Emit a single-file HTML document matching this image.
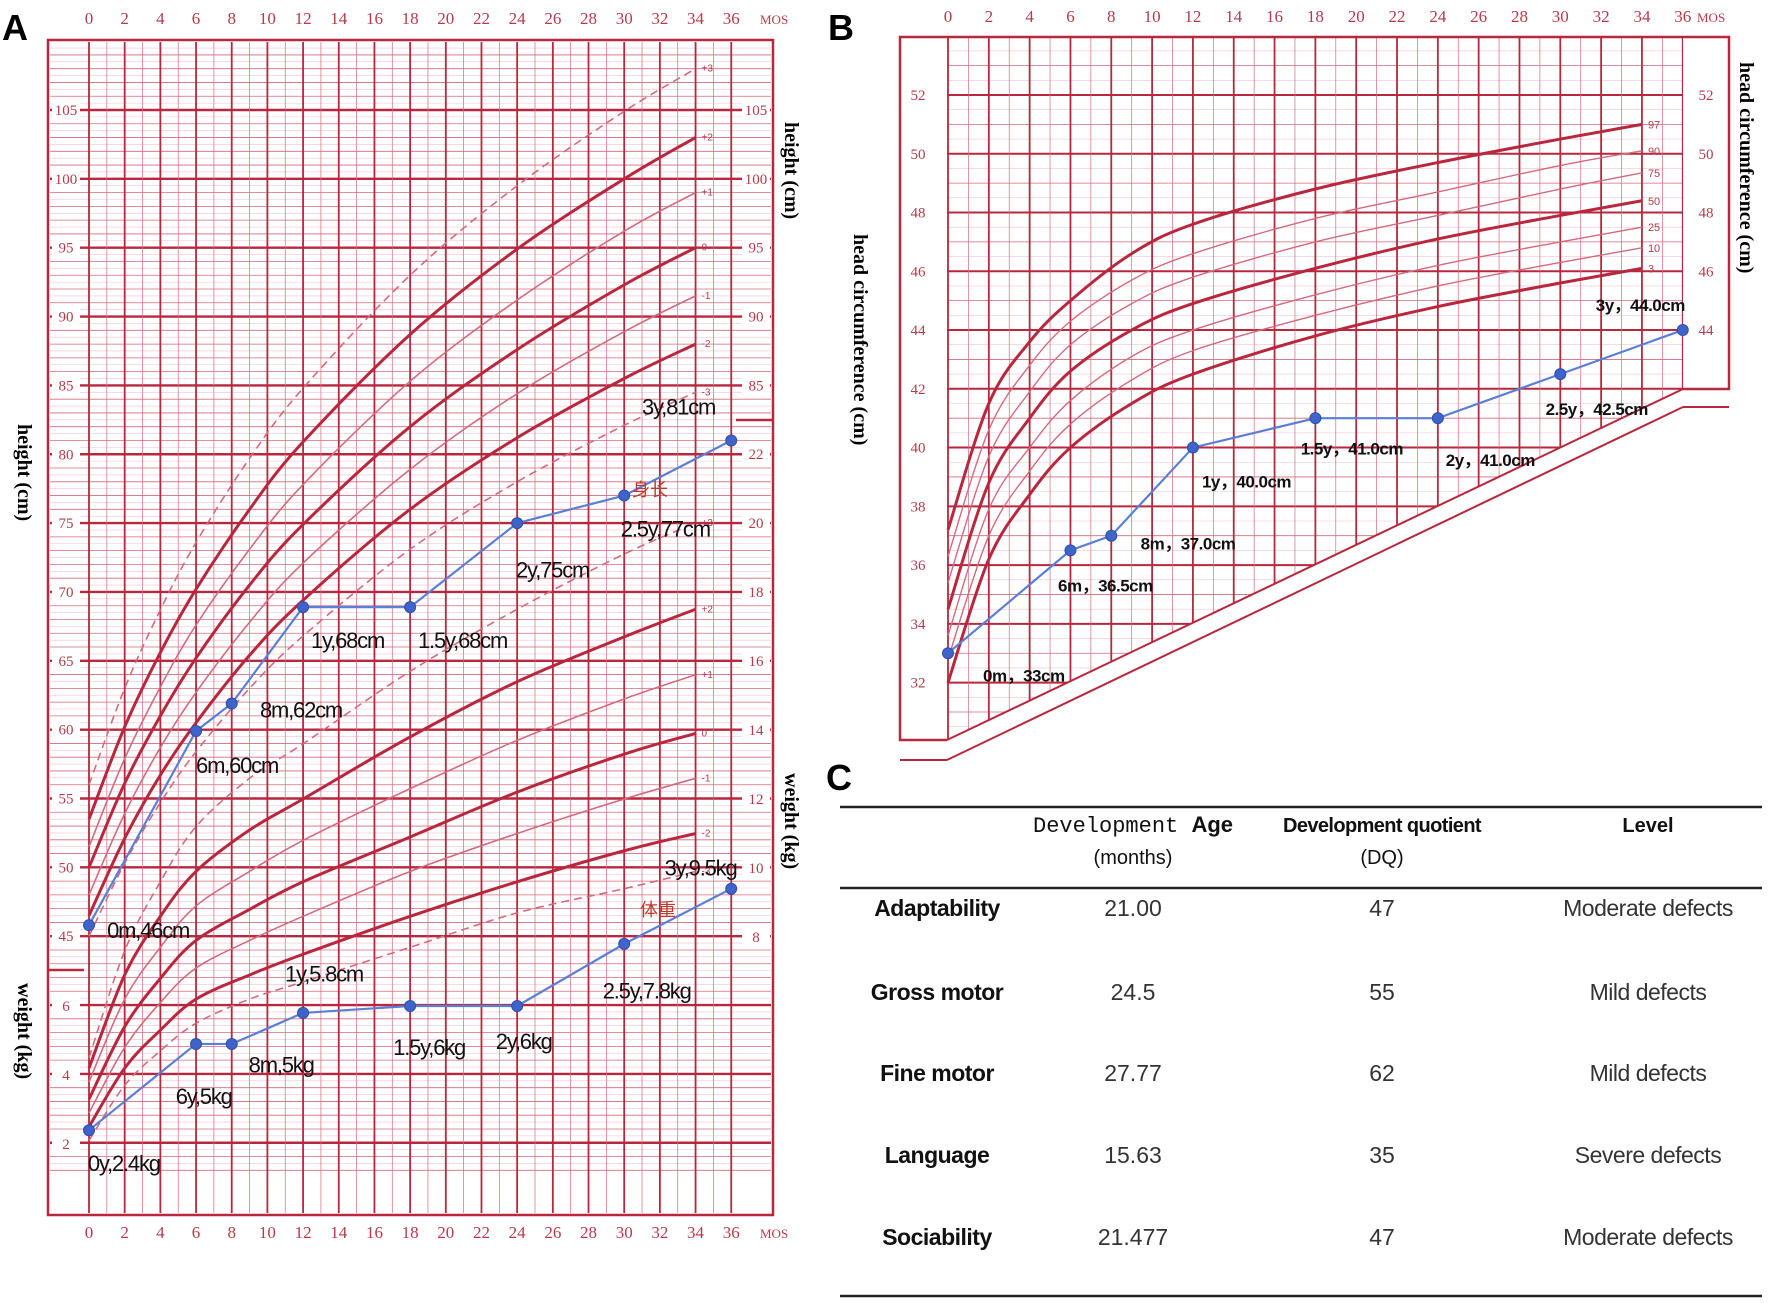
<!DOCTYPE html>
<html><head><meta charset="utf-8">
<style>
html,body{margin:0;padding:0;background:#fff;}
svg{display:block;font-family:"Liberation Sans","Noto Sans CJK SC",sans-serif;}
</style></head>
<body>
<svg id="fig" width="1772" height="1303" viewBox="0 0 1772 1303" xmlns="http://www.w3.org/2000/svg">
<defs>
<clipPath id="clipB"><polygon points="947,37 1683,37 1683,389 947,740"/></clipPath>
</defs>
<g id="gA"></g>
<g id="gB"></g>
<g id="gC"></g>
</svg>
<script>
// ---------- DATA ----------
const refMonths = [0,2,4,6,9,12,18,24,30,34];
const heightSDLabels = ['+3','+2','+1','0','-1','-2','-3'];
const heightP3 = [56,63,68.7,73.6,79.7,84.8,93,99.5,104.9,108];
const heightP2 = [53.5,60.2,65.6,70.2,76,80.9,88.7,94.9,100,103];
const heightP1 = [51.5,57.9,63.1,67.6,73.1,77.8,85.3,91.2,96.2,99];
const height0  = [50,56.1,61,65.2,70.5,74.9,82,87.6,92.3,95];
const heightM1 = [48,53.9,58.7,62.7,67.8,72.1,78.9,84.4,88.9,91.5];
const heightM2 = [46.5,52.1,56.7,60.5,65.4,69.4,76,81.2,85.5,88];
const heightM3 = [45,50.3,54.7,58.4,63,66.8,73.1,78,82.1,84.5];
const weightP3 = [4.5,7.6,9.6,11.2,12.6,13.6,15.7,17.5,19.1,20];
const weightP2 = [4.2,6.9,8.6,9.9,11.1,12.0,13.8,15.4,16.7,17.5];
const weightP1 = [3.8,6.2,7.7,8.9,9.9,10.8,12.3,13.7,14.9,15.6];
const weight0  = [3.3,5.4,6.8,7.9,8.8,9.6,10.9,12.2,13.3,13.9];
const weightM1 = [2.9,4.8,6.1,7.1,7.9,8.6,9.9,11.0,12.0,12.6];
const weightM2 = [2.5,4.2,5.3,6.2,6.9,7.5,8.6,9.6,10.5,11.0];
const weightM3 = [2.1,3.7,4.7,5.5,6.2,6.7,7.7,8.7,9.4,9.9];
const headPctLabels = ['97','90','75','50','25','10','3'];
const head97 = [37.2,41.5,43.6,45.0,46.6,47.6,48.8,49.7,50.5,51.0];
const head90 = [36.3,40.6,42.8,44.3,45.7,46.6,47.8,48.7,49.6,50.1];
const head75 = [35.4,39.7,41.9,43.5,44.9,45.8,47.0,47.9,48.8,49.35];
const head50 = [34.5,38.8,41.0,42.6,44.0,44.9,46.1,47.1,47.9,48.4];
const head25 = [33.6,37.9,40.0,41.6,43.1,44.0,45.2,46.2,47.0,47.5];
const head10 = [32.8,37.0,39.2,40.8,42.3,43.3,44.5,45.5,46.3,46.8];
const head3  = [32.0,36.2,38.4,40.0,41.5,42.5,43.8,44.8,45.6,46.1];
const childMonths = [0,6,8,12,18,24,30,36];
const childHeight = [45.8,59.9,61.9,68.9,68.9,75,77,81];
const childWeight = [2.4,4.9,4.9,5.8,6.0,6.0,7.8,9.4];
const childHead = [33,36.5,37,40,41,41,42.5,44];
const heightLabels = ['0m,46cm','6m,60cm','8m,62cm','1y,68cm','1.5y,68cm','2y,75cm','2.5y,77cm','3y,81cm'];
const weightLabels = ['0y,2.4kg','6y,5kg','8m,5kg','1y,5.8cm','1.5y,6kg','2y,6kg','2.5y,7.8kg','3y,9.5kg'];
const headLabels = ['0m，33cm','6m，36.5cm','8m，37.0cm','1y，40.0cm','1.5y，41.0cm','2y，41.0cm','2.5y，42.5cm','3y，44.0cm'];
const tableRows = ['Adaptability','Gross motor','Fine motor','Language','Sociability'];
const tableAge = ['21.00','24.5','27.77','15.63','21.477'];
const tableDQ = ['47','55','62','35','47'];
const tableLevel = ['Moderate defects','Mild defects','Mild defects','Severe defects','Moderate defects'];

// ---------- helpers ----------
const NS='http://www.w3.org/2000/svg';
function mk(parent,tag,attrs,txt){const e=document.createElementNS(NS,tag);for(const k in attrs)e.setAttribute(k,attrs[k]);if(txt!==undefined)e.textContent=txt;parent.appendChild(e);return e;}
const DARK='#b8273d', MID='#d46a7e', FINE='#f1c3cc', LBL='#b83a4a';
const SERIF='"Liberation Serif",serif';
function smooth(pts){let d='M'+pts[0][0]+','+pts[0][1];for(let i=0;i<pts.length-1;i++){const p0=pts[i-1]||pts[i],p1=pts[i],p2=pts[i+1],p3=pts[i+2]||p2;const c1=[p1[0]+(p2[0]-p0[0])/6,p1[1]+(p2[1]-p0[1])/6],c2=[p2[0]-(p3[0]-p1[0])/6,p2[1]-(p3[1]-p1[1])/6];d+=` C${c1[0]},${c1[1]} ${c2[0]},${c2[1]} ${p2[0]},${p2[1]}`;}return d;}

// ---------- PANEL A ----------
const gA=document.getElementById('gA');
const xA=m=>89+m*17.84;
const yH=v=>110+(105-v)*13.77;
const yW=w=>1144-(w-2)*34.5;
let t=mk(gA,'text',{x:2,y:40,'font-size':36,'font-weight':'bold',fill:'#000'},'A');


for(let v=28;v<=112;v+=0.5){const y=yH(v);if(y<42||y>1213)continue;const major=(v%5===0),minor=(v%1===0);
 const l=mk(gA,'line',{x1:50,x2:771,y1:y,y2:y,stroke:major?DARK:(minor?MID:FINE),'stroke-width':major?2.4:(minor?0.8:0.6)});
 
 }
for(let m=0;m<=36;m++){const x=xA(m);const l=mk(gA,'line',{x1:x,x2:x,y1:42,y2:1213,stroke:m%2===0?DARK:MID,'stroke-width':m%2===0?1.8:0.7});
 
 
 if(m%2===0){const a=mk(gA,'text',{x:x,y:24,'font-size':17,fill:LBL,'text-anchor':'middle','font-family':SERIF},String(m));
 
 
 const b=mk(gA,'text',{x:x,y:1238,'font-size':17,fill:LBL,'text-anchor':'middle','font-family':SERIF},String(m));
 
 }}
let f=mk(gA,'rect',{x:48,y:40,width:725,height:1175,fill:'none',stroke:DARK,'stroke-width':2.5});


t=mk(gA,'text',{x:760,y:24,'font-size':13,fill:LBL,'font-family':SERIF},'MOS');
t=mk(gA,'text',{x:760,y:1238,'font-size':13,fill:LBL,'font-family':SERIF},'MOS');
for(let v=45;v<=105;v+=5){const y=yH(v);const a=mk(gA,'rect',{x:52,y:y-9,width:28,height:18,fill:'#fff'});
 const b=mk(gA,'text',{x:66,y:y+5,'font-size':15,fill:LBL,'text-anchor':'middle','font-family':SERIF},String(v));}
for(let v=85;v<=105;v+=5){const y=yH(v);const a=mk(gA,'rect',{x:742,y:y-9,width:28,height:18,fill:'#fff'});
 const b=mk(gA,'text',{x:756,y:y+5,'font-size':15,fill:LBL,'text-anchor':'middle','font-family':SERIF},String(v));}
for(let w=8;w<=22;w+=2){const y=yW(w);const a=mk(gA,'rect',{x:742,y:y-9,width:28,height:18,fill:'#fff'});
 const b=mk(gA,'text',{x:756,y:y+5,'font-size':15,fill:LBL,'text-anchor':'middle','font-family':SERIF},String(w));}
for(let w=2;w<=6;w+=2){const y=yW(w);const a=mk(gA,'rect',{x:52,y:y-9,width:28,height:18,fill:'#fff'});
 const b=mk(gA,'text',{x:66,y:y+5,'font-size':15,fill:LBL,'text-anchor':'middle','font-family':SERIF},String(w));}
let s=mk(gA,'line',{x1:736,x2:773,y1:420,y2:420,stroke:DARK,'stroke-width':2.5});
s=mk(gA,'line',{x1:48,x2:84,y1:970,y2:970,stroke:DARK,'stroke-width':2.5});
function rotTitle(g,x,y,txt,name){const e=mk(g,'text',{x:x,y:y,'font-size':20,'font-weight':'bold','font-family':SERIF,fill:'#000',transform:`rotate(90 ${x} ${y})`},txt);}
rotTitle(gA,785,122,'height (cm)','a-right-height-title');
rotTitle(gA,18,424,'height (cm)','a-left-height-title');
rotTitle(gA,785,773,'weight (kg)','a-right-weight-title');
rotTitle(gA,18,983,'weight (kg)','a-left-weight-title');
const hSeries=[heightP3,heightP2,heightP1,height0,heightM1,heightM2,heightM3];
const wSeries=[weightP3,weightP2,weightP1,weight0,weightM1,weightM2,weightM3];
const styleSD=[{c:MID,w:1.6,d:'8,5'},{c:DARK,w:3,d:''},{c:MID,w:1.6,d:''},{c:DARK,w:3,d:''},{c:MID,w:1.6,d:''},{c:DARK,w:3,d:''},{c:MID,w:1.6,d:'8,5'}];
hSeries.forEach((arr,i)=>{const p=mk(gA,'path',{d:smooth(refMonths.map((m,j)=>[xA(m),yH(arr[j])])),fill:'none',stroke:styleSD[i].c,'stroke-width':styleSD[i].w,'stroke-dasharray':styleSD[i].d});
 
 
 const l=mk(gA,'text',{x:xA(34)+6,y:yH(arr[arr.length-1])+3,'font-size':10,fill:LBL},heightSDLabels[i]);
 
 });
wSeries.forEach((arr,i)=>{const p=mk(gA,'path',{d:smooth(refMonths.map((m,j)=>[xA(m),yW(arr[j])])),fill:'none',stroke:styleSD[i].c,'stroke-width':styleSD[i].w,'stroke-dasharray':styleSD[i].d});
 
 
 const l=mk(gA,'text',{x:xA(34)+6,y:yW(arr[arr.length-1])+3,'font-size':10,fill:LBL},heightSDLabels[i]);
 
 });
const BLUE='#5a7fd6', DOT='#3f63c8';
function series(g,xf,yf,vals,labels,offs,name,fs,bold){
 const pl=mk(g,'polyline',{points:childMonths.map((m,i)=>xf(m)+','+yf(vals[i])).join(' '),fill:'none',stroke:BLUE,'stroke-width':2.2});
 
 
 childMonths.forEach((m,i)=>{const c=mk(g,'circle',{cx:xf(m),cy:yf(vals[i]),r:5.5,fill:DOT,stroke:'#2c4fb0','stroke-width':1});
  
  
  const tx=mk(g,'text',{x:xf(m)+offs[i][0]*1.13,y:yf(vals[i])+offs[i][1]*1.13+7,'font-size':fs,fill:'#111','font-weight':bold?'bold':'normal','letter-spacing':bold?'-0.5':'-1.2'},labels[i]);
  
  });}
const hOff=[[16,5],[0,31],[25,6],[7,30],[7,30],[-1,42],[-3,30],[-79,-29]];
const wOff=[[-1,30],[-18,47],[15,19],[-16,-34],[-15,37],[-19,32],[-19,42],[-59,-18]];
series(gA,xA,yH,childHeight,heightLabels,hOff,'child-height',22,false);
series(gA,xA,yW,childWeight,weightLabels,wOff,'child-weight',22,false);
t=mk(gA,'text',{x:632,y:496,'font-size':18,fill:'#c0392b'},'身长');
t=mk(gA,'text',{x:640,y:916,'font-size':18,fill:'#c0392b'},'体重');

// ---------- PANEL B ----------
const gB=document.getElementById('gB');
const xB=m=>948+m*20.41;
const yC=c=>95+(52-c)*29.38;
t=mk(gB,'text',{x:828,y:40,'font-size':36,'font-weight':'bold',fill:'#000'},'B');
const grid=mk(gB,'g',{'clip-path':'url(#clipB)'});


for(let c=28;c<=54;c+=0.5){const y=yC(c);const major=c%2===0,minor=c%1===0;
 const l=mk(grid,'line',{x1:900,x2:1729,y1:y,y2:y,stroke:major?DARK:(minor?MID:FINE),'stroke-width':major?2:(minor?0.8:0.6)});
 
 }
for(let m=0;m<=36;m++){const x=xB(m);const l=mk(grid,'line',{x1:x,x2:x,y1:37,y2:760,stroke:m%2===0?DARK:MID,'stroke-width':m%2===0?1.8:0.7});
 
 }
for(let m=0;m<=36;m+=2){const a=mk(gB,'text',{x:xB(m),y:22,'font-size':17,fill:LBL,'text-anchor':'middle','font-family':SERIF},String(m));}
t=mk(gB,'text',{x:1697,y:22,'font-size':13,fill:LBL,'font-family':SERIF},'MOS');
s=mk(gB,'polyline',{points:'947,740 900,740 900,37 1729,37 1729,389 1683,389',fill:'none',stroke:DARK,'stroke-width':2.5});
s=mk(gB,'line',{x1:947,y1:740,x2:1683,y2:389,stroke:DARK,'stroke-width':2});
s=mk(gB,'line',{x1:947,y1:760,x2:1683,y2:407,stroke:DARK,'stroke-width':2});
s=mk(gB,'line',{x1:900,y1:760,x2:947,y2:760,stroke:DARK,'stroke-width':2});
s=mk(gB,'line',{x1:1683,y1:407,x2:1729,y2:407,stroke:DARK,'stroke-width':2});
for(let c=32;c<=52;c+=2){const y=yC(c);const a=mk(gB,'rect',{x:905,y:y-9,width:24,height:18,fill:'#fff'});
 const b=mk(gB,'text',{x:918,y:y+5,'font-size':15,fill:LBL,'text-anchor':'middle','font-family':SERIF},String(c));}
for(let c=44;c<=52;c+=2){const y=yC(c);const a=mk(gB,'rect',{x:1694,y:y-9,width:24,height:18,fill:'#fff'});
 const b=mk(gB,'text',{x:1706,y:y+5,'font-size':15,fill:LBL,'text-anchor':'middle','font-family':SERIF},String(c));}
rotTitle(gB,854,234,'head circumference  (cm)','b-left-title');
rotTitle(gB,1740,62,'head circumference  (cm)','b-right-title');
const headSeries=[head97,head90,head75,head50,head25,head10,head3];
const styleP=[{c:DARK,w:3},{c:MID,w:1.4},{c:MID,w:1.4},{c:DARK,w:3},{c:MID,w:1.4},{c:MID,w:1.4},{c:DARK,w:3}];
headSeries.forEach((arr,i)=>{const p=mk(gB,'path',{d:smooth(refMonths.map((m,j)=>[xB(m),yC(arr[j])])),fill:'none',stroke:styleP[i].c,'stroke-width':styleP[i].w});
 
 
 const l=mk(gB,'text',{x:xB(34)+6,y:yC(arr[arr.length-1])+4,'font-size':11,fill:LBL},headPctLabels[i]);
 
 });
const cOff=[[31,19],[-11,30],[26,6],[8,29],[-13,26],[7,36],[-13,30],[-77,-23]];
series(gB,xB,yC,childHead,headLabels,cOff,'child-head',17,true);

// ---------- PANEL C ----------
const gC=document.getElementById('gC');
t=mk(gC,'text',{x:826,y:790,'font-size':36,'font-weight':'bold',fill:'#000'},'C');
[[807,2.5],[888,2.5],[1296,2.5]].forEach(r=>{const l=mk(gC,'line',{x1:840,x2:1762,y1:r[0],y2:r[0],stroke:'#222','stroke-width':r[1]});});
const colX=[937,1133,1382,1648];
let h=mk(gC,'text',{x:1133,y:832,'font-size':22,'text-anchor':'middle',fill:'#111'});
mk(h,'tspan',{'font-family':'"Liberation Mono",monospace'},'Development ');mk(h,'tspan',{'font-weight':'bold'},'Age');
h=mk(gC,'text',{x:1133,y:864,'font-size':20,'text-anchor':'middle',fill:'#111'},'(months)');
h=mk(gC,'text',{x:1382,y:832,'font-size':20,'font-weight':'bold','text-anchor':'middle',fill:'#111','letter-spacing':'-0.6'},'Development quotient');
h=mk(gC,'text',{x:1382,y:864,'font-size':20,'text-anchor':'middle',fill:'#111'},'(DQ)');
h=mk(gC,'text',{x:1648,y:832,'font-size':20,'font-weight':'bold','text-anchor':'middle',fill:'#111'},'Level');
const rowY=[916,1000,1081,1163,1245];
tableRows.forEach((r,i)=>{
 const a=mk(gC,'text',{x:colX[0],y:rowY[i],'font-size':23,'font-weight':'bold','text-anchor':'middle',fill:'#111','letter-spacing':'-0.5'},r);
 const b=mk(gC,'text',{x:colX[1],y:rowY[i],'font-size':23,'text-anchor':'middle',fill:'#333'},tableAge[i]);
 const c=mk(gC,'text',{x:colX[2],y:rowY[i],'font-size':23,'text-anchor':'middle',fill:'#333'},tableDQ[i]);
 const d=mk(gC,'text',{x:colX[3],y:rowY[i],'font-size':23,'text-anchor':'middle',fill:'#333','letter-spacing':'-0.5'},tableLevel[i]);
});
</script>
</body></html>
